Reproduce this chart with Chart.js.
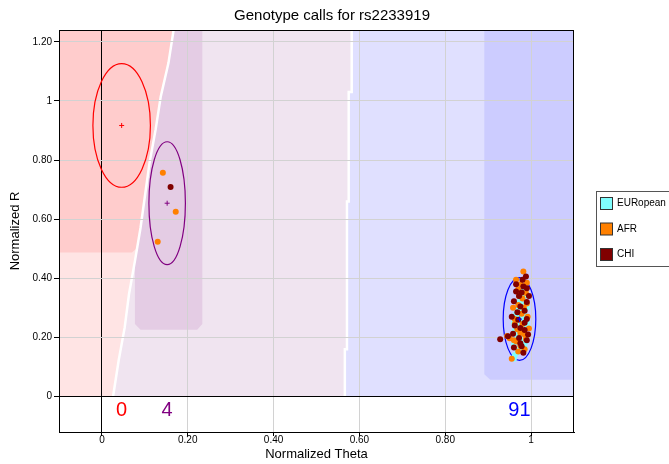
<!DOCTYPE html>
<html>
<head>
<meta charset="utf-8">
<script src="https://cdn.jsdelivr.net/npm/chart.js@4.4.1/dist/chart.umd.min.js"></script>
<style>
  html, body { margin: 0; padding: 0; background: #fff; }
</style>
</head>
<body>
<canvas id="chart" width="669" height="464"></canvas>
<script>
// genotype cluster ovals (theta / R units)
const clusterColors = ['#ff0000', '#800080', '#0000ff'];
const clusterCenterX = [0.046, 0.152, 0.973];
const clusterCenterY = [0.917, 0.654, 0.262];
const clusterHalfW = [0.067, 0.0425, 0.038];
const clusterHalfH = [0.209, 0.208, 0.14];
const clusterCounts = [0, 4, 91];

// samples per population [theta, R]
const eurPoints = [
  [0.985, 0.340], [0.975, 0.325], [0.990, 0.300], [0.970, 0.295], [0.985, 0.275],
  [0.965, 0.280], [0.978, 0.262], [0.990, 0.250], [0.968, 0.240], [0.980, 0.230],
  [0.962, 0.222], [0.975, 0.210], [0.988, 0.200], [0.965, 0.195], [0.978, 0.188],
  [0.960, 0.178], [0.972, 0.160], [0.962, 0.140], [0.960, 0.128], [0.985, 0.180],
  [0.975, 0.290], [0.982, 0.310], [0.968, 0.270], [0.992, 0.235], [0.970, 0.205],
  [0.980, 0.360], [0.960, 0.250], [0.985, 0.165], [0.972, 0.315], [0.968, 0.150]
];
const afrPoints = [
  [0.142, 0.757], [0.172, 0.625], [0.130, 0.524],
  [0.982, 0.423], [0.976, 0.380], [0.970, 0.362], [0.988, 0.350], [0.980, 0.332],
  [0.983, 0.300], [0.978, 0.280], [0.962, 0.262], [0.980, 0.245], [0.968, 0.228],
  [0.944, 0.205], [0.950, 0.197], [0.966, 0.186], [0.975, 0.172], [0.970, 0.152],
  [0.955, 0.128], [0.990, 0.315], [0.992, 0.270], [0.958, 0.300], [0.985, 0.210],
  [0.972, 0.340], [0.965, 0.395], [0.990, 0.385], [0.960, 0.190], [0.985, 0.160],
  [0.975, 0.215], [0.962, 0.245], [0.995, 0.230], [0.970, 0.310], [0.988, 0.195]
];
const chiPoints = [
  [0.160, 0.709],
  [0.988, 0.406], [0.982, 0.372], [0.990, 0.366], [0.965, 0.355], [0.978, 0.352],
  [0.972, 0.340], [0.960, 0.322], [0.990, 0.320], [0.975, 0.305], [0.985, 0.290],
  [0.968, 0.285], [0.990, 0.262], [0.962, 0.240], [0.975, 0.232], [0.985, 0.225],
  [0.958, 0.212], [0.928, 0.194], [0.946, 0.204], [0.972, 0.198], [0.990, 0.190],
  [0.975, 0.180], [0.960, 0.166], [0.982, 0.148], [0.995, 0.340], [0.970, 0.260],
  [0.980, 0.395], [0.955, 0.270], [0.993, 0.210], [0.965, 0.380], [0.985, 0.250],
  [0.978, 0.170]
];

const xTicks = [0, 0.2, 0.4, 0.6, 0.8, 1];
const xTickLabels = ['0', '0.20', '0.40', '0.60', '0.80', '1'];
const yTicks = [0, 0.2, 0.4, 0.6, 0.8, 1, 1.2];
const yTickLabels = ['0', '0.20', '0.40', '0.60', '0.80', '1', '1.20'];

// call region edges, top to bottom [theta, R]
const aaAbEdge = [
  [0.167, 1.24], [0.155, 1.128], [0.137, 1.014], [0.125, 0.902], [0.111, 0.791],
  [0.100, 0.676], [0.090, 0.571], [0.077, 0.459], [0.063, 0.345], [0.053, 0.233],
  [0.039, 0.122], [0.026, 0]
];
const abBbEdge = [
  [0.582, 1.24], [0.582, 1.03], [0.575, 1.03], [0.575, 0.66], [0.571, 0.66],
  [0.571, 0.16], [0.566, 0.16], [0.566, 0]
];

Chart.defaults.font.family = '"Liberation Sans", Arial, sans-serif';
Chart.defaults.color = '#000';

const toXY = arr => arr.map(([x, y]) => ({ x, y }));

const regionPlugin = {
  id: 'regions',
  beforeDraw(chart) {
    const { ctx, chartArea: a, scales: { x, y } } = chart;
    const x0 = x.min, x1 = x.max, y1 = y.max;
    const path = pts => {
      ctx.beginPath();
      pts.forEach(([u, v], i) => {
        const px = x.getPixelForValue(u), py = y.getPixelForValue(v);
        i ? ctx.lineTo(px, py) : ctx.moveTo(px, py);
      });
    };
    const poly = (pts, color) => {
      path(pts);
      ctx.closePath();
      ctx.fillStyle = color;
      ctx.fill();
    };
    const line = pts => {
      path(pts);
      ctx.strokeStyle = '#fff';
      ctx.lineWidth = 2.5;
      ctx.stroke();
    };
    ctx.save();
    ctx.beginPath();
    ctx.rect(a.left, a.top, a.width, y.getPixelForValue(0) - a.top);
    ctx.clip();

    // AA (red)
    poly([[x0, y1], ...aaAbEdge, [x0, 0]], '#ffe4e4');
    poly([[x0, y1], ...aaAbEdge.filter(p => p[1] >= 0.5), [0.08, 0.5], [0.07, 0.487], [x0, 0.487]], '#ffcccc');
    // AB (purple)
    poly([...aaAbEdge, ...abBbEdge.slice().reverse()], '#f0e4f0');
    poly([...aaAbEdge.filter(p => p[1] >= 0.459), [0.077, 0.245], [0.09, 0.226], [0.222, 0.226],
          [0.234, 0.245], [0.234, y1]], '#e4cce4');
    // BB (blue)
    poly([...abBbEdge, [x1, 0], [x1, y1]], '#e0e0ff');
    poly([[0.891, y1], [0.891, 0.075], [0.905, 0.057], [x1, 0.057], [x1, y1]], '#ccccff');

    line(aaAbEdge);
    line(abBbEdge);
    ctx.restore();
  },
  beforeDatasetsDraw(chart) {
    const { ctx, chartArea: a, scales: { x, y } } = chart;
    ctx.save();
    ctx.beginPath();
    ctx.rect(a.left, a.top, a.width, a.height);
    ctx.clip();
    clusterColors.forEach((c, i) => {
      const cx = x.getPixelForValue(clusterCenterX[i]);
      const cy = y.getPixelForValue(clusterCenterY[i]);
      const rx = x.getPixelForValue(clusterCenterX[i] + clusterHalfW[i]) - cx;
      const ry = cy - y.getPixelForValue(clusterCenterY[i] + clusterHalfH[i]);
      ctx.beginPath();
      ctx.ellipse(cx, cy, rx, ry, 0, 0, Math.PI * 2);
      ctx.strokeStyle = c;
      ctx.lineWidth = 1.2;
      ctx.stroke();
    });
    ctx.restore();
  },
  afterDraw(chart) {
    const { ctx, chartArea: a, scales: { x, y } } = chart;
    ctx.save();
    // frame
    ctx.strokeStyle = '#000';
    ctx.lineWidth = 1;
    ctx.strokeRect(a.left + 0.5, a.top + 0.5, a.width - 1, a.height);

    // counts
    ctx.font = '20px "Liberation Sans", Arial, sans-serif';
    ctx.textAlign = 'center';
    ctx.textBaseline = 'middle';
    clusterCounts.forEach((n, i) => {
      ctx.fillStyle = clusterColors[i];
      ctx.fillText(String(n), x.getPixelForValue(clusterCenterX[i]), y.getPixelForValue(-0.046));
    });

    // title
    ctx.fillStyle = '#000';
    ctx.font = '15px "Liberation Sans", Arial, sans-serif';
    ctx.fillText('Genotype calls for rs2233919', 332, 16);

    // legend
    const items = chart.data.datasets.filter(d => d.inLegend);
    const lx = 596.5, ly = 191.5;
    ctx.fillStyle = '#fff';
    ctx.fillRect(lx, ly, 80, 75);
    ctx.strokeStyle = '#555';
    ctx.strokeRect(lx, ly, 80, 75);
    ctx.font = '10px "Liberation Sans", Arial, sans-serif';
    ctx.textAlign = 'left';
    items.forEach((d, i) => {
      const cy = 203.5 + i * 25.5;
      ctx.fillStyle = d.backgroundColor;
      ctx.fillRect(600.5, cy - 6, 12, 12);
      ctx.strokeStyle = '#333';
      ctx.strokeRect(600.5, cy - 6, 12, 12);
      ctx.fillStyle = '#000';
      ctx.fillText(d.label, 617, cy);
    });
    ctx.restore();
  }
};

const gridColor = c => (c.tick && c.tick.value === 0 ? '#000' : '#d2d2d2');

new Chart(document.getElementById('chart'), {
  type: 'scatter',
  data: {
    datasets: [
      {
        label: 'EURopean', inLegend: true, data: toXY(eurPoints),
        backgroundColor: '#80ffff', borderColor: '#80ffff', borderWidth: 0,
        pointRadius: 3, order: 2
      },
      {
        label: 'AFR', inLegend: true, data: toXY(afrPoints),
        backgroundColor: '#ff8000', borderColor: '#ff8000', borderWidth: 0,
        pointRadius: 3, order: 1
      },
      {
        label: 'CHI', inLegend: true, data: toXY(chiPoints),
        backgroundColor: '#800000', borderColor: '#800000', borderWidth: 0,
        pointRadius: 3, order: 0
      },
      {
        label: 'centers', data: clusterCenterX.map((cx, i) => ({ x: cx, y: clusterCenterY[i] })),
        pointStyle: 'cross', pointRadius: 2.5, borderWidth: 1,
        borderColor: clusterColors, backgroundColor: clusterColors, order: -1
      }
    ]
  },
  options: {
    responsive: false,
    animation: false,
    layout: { padding: { left: 0, right: 95, top: 30, bottom: 0 } },
    plugins: {
      legend: { display: false },
      title: { display: false },
      tooltip: { enabled: false }
    },
    scales: {
      x: {
        type: 'linear', min: -0.1, max: 1.1,
        afterBuildTicks: s => { s.ticks = xTicks.map(v => ({ value: v })); },
        afterFit: s => { s.height = 32; },
        ticks: {
          callback: (v, i) => xTickLabels[i], font: { size: 10 }, color: '#000',
          padding: -2, maxRotation: 0, autoSkip: false
        },
        grid: { color: gridColor, tickColor: '#000', tickLength: 4, lineWidth: 1 },
        border: { color: '#000' },
        title: {
          display: true, text: 'Normalized Theta', font: { size: 13 }, color: '#000',
          padding: { top: 0, bottom: 2 }
        }
      },
      y: {
        type: 'linear', min: -0.12, max: 1.24,
        afterBuildTicks: s => { s.ticks = yTicks.map(v => ({ value: v })); },
        afterFit: s => { s.width = 59; },
        ticks: {
          callback: (v, i) => yTickLabels[i], font: { size: 10 }, color: '#000',
          padding: 2, autoSkip: false
        },
        grid: { color: gridColor, tickColor: '#000', tickLength: 5, lineWidth: 1 },
        border: { color: '#000' },
        title: {
          display: true, text: 'Normalized R', font: { size: 13 }, color: '#000',
          padding: { top: 8, bottom: 0 }
        }
      }
    }
  },
  plugins: [regionPlugin]
});
</script>
</body>
</html>
